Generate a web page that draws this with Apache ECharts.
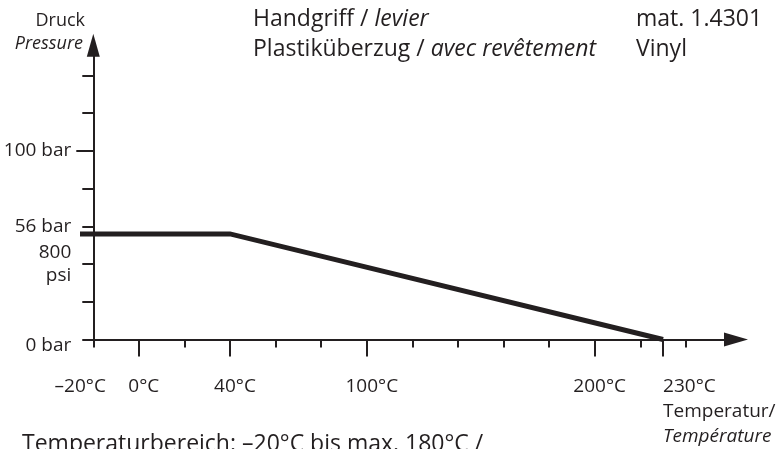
<!DOCTYPE html>
<html>
<head>
<meta charset="utf-8">
<script src="https://cdn.jsdelivr.net/npm/echarts@6/dist/echarts.min.js"></script>
<style>
  html, body { margin: 0; padding: 0; background: #ffffff; }
  #chart { width: 781px; height: 449px; }
</style>
</head>
<body>
<div id="chart"></div>
<script>
// Pressure / temperature rating curve
const temperature = [-27.5, 40, 230];      // °C
const pressure = [56, 56, 0];              // bar

// Temperature axis
const tempMinorTicks = [-20, 20, 60, 80, 120, 140, 160, 180, 220, 240];
const tempMajorTicks = [0, 40, 100, 200, 230];
const tempLabelValues = [0, 40, 100, 200];
const tempStartLabel = [-20];
const tempEndLabel = [230];

// Pressure axis
const pressureMinorTicks = [20, 40, 60, 80, 120, 140];
const pressureMajorTicks = [100];
const pressureLabelValues = [0, 40, 60, 100];
const pressureLabelTexts = ['0 bar', '800\npsi', '56 bar', '100 bar'];

const INK = '#231f20';
const FONT = '"Open Sans", "Noto Sans", sans-serif';
const LABEL_SIZE = 19;

const X_MIN = -24.5, X_MAX = 262;
const Y_MIN = 0, Y_MAX = 156;
const Y_AXIS_SHIFT = -10.3;   // vertical axis sits at -20 °C

function degreeText(v) {
  return (v < 0 ? '\u2013' + Math.abs(v) : String(v)) + '°C';
}

const baseX = {
  type: 'value', min: X_MIN, max: X_MAX, position: 'bottom',
  splitLine: { show: false },
  axisLine: { show: false, onZero: false },
  axisTick: { show: false },
  axisLabel: { show: false }
};

const baseY = {
  type: 'value', min: Y_MIN, max: Y_MAX, position: 'left', offset: Y_AXIS_SHIFT,
  splitLine: { show: false },
  axisLine: { show: false, onZero: false },
  axisTick: { show: false },
  axisLabel: { show: false }
};

const labelText = { color: INK, fontFamily: FONT, fontSize: LABEL_SIZE, lineHeight: 25 };

function tempLabelAxis(values, extra) {
  return Object.assign({}, baseX, {
    axisLabel: Object.assign({}, labelText, {
      show: true, customValues: values, margin: 34.5,
      showMinLabel: true, showMaxLabel: true, hideOverlap: false
    }, extra)
  });
}

const chart = echarts.init(document.getElementById('chart'), null, { renderer: 'canvas' });

chart.setOption({
  animation: false,
  backgroundColor: '#ffffff',
  textStyle: { fontFamily: FONT, color: INK },
  grid: { left: 83, right: 45, top: 45.3, bottom: 109, containLabel: false },
  xAxis: [
    // axis line with arrow and short ticks
    Object.assign({}, baseX, {
      axisLine: { show: true, onZero: false, lineStyle: { color: INK, width: 2 },
        symbol: ['none', 'triangle'], symbolSize: [14, 24] },
      axisTick: { show: true, length: 8, customValues: tempMinorTicks,
        lineStyle: { color: INK, width: 2 } }
    }),
    // long ticks
    Object.assign({}, baseX, {
      axisTick: { show: true, length: 17, customValues: tempMajorTicks,
        lineStyle: { color: INK, width: 2 } }
    }),
    // labels: number centred on its tick
    tempLabelAxis(tempLabelValues, {
      formatter: function (v) { return '{s| }' + degreeText(v); },
      rich: { s: Object.assign({}, labelText, { width: 10 }) }
    }),
    // first label, left of the vertical axis
    tempLabelAxis(tempStartLabel, {
      formatter: function (v) { return degreeText(v) + '{w| }'; },
      rich: { w: Object.assign({}, labelText, { width: 26 }) }
    }),
    // last label with axis title
    tempLabelAxis(tempEndLabel, {
      align: 'left',
      formatter: function (v) { return degreeText(v) + '\nTemperatur/\n{i|Température}'; },
      rich: { i: Object.assign({}, labelText, { fontStyle: 'italic' }) }
    })
  ],
  yAxis: [
    Object.assign({}, baseY, {
      axisLine: { show: true, onZero: false, lineStyle: { color: INK, width: 2 },
        symbol: ['none', 'triangle'], symbolSize: [13, 23] },
      axisTick: { show: true, length: 11, customValues: pressureMinorTicks,
        lineStyle: { color: INK, width: 2 } },
      axisLabel: {
        show: true, customValues: pressureLabelValues, margin: 22,
        showMinLabel: true, showMaxLabel: true, hideOverlap: false,
        color: INK, fontFamily: FONT, fontSize: LABEL_SIZE, lineHeight: 23, align: 'right',
        formatter: function (v) {
          const t = pressureLabelTexts[pressureLabelValues.indexOf(v)];
          return v === 0 ? '{z|' + t + '}' : t;
        },
        rich: {
          z: { padding: [13, 0, 0, 0], color: INK, fontFamily: FONT, fontSize: LABEL_SIZE, lineHeight: 23 }
        }
      }
    }),
    Object.assign({}, baseY, {
      axisTick: { show: true, length: 17, customValues: pressureMajorTicks,
        lineStyle: { color: INK, width: 2 } }
    })
  ],
  series: [{
    type: 'line',
    xAxisIndex: 0, yAxisIndex: 0,
    data: temperature.map((t, i) => [t, pressure[i]]),
    clip: false,
    showSymbol: false,
    symbol: 'none',
    lineStyle: { color: INK, width: 5, cap: 'butt', join: 'miter' }
  }],
  graphic: [
    { type: 'text', x: 85, y: 21,
      style: { text: 'Druck', align: 'right', verticalAlign: 'middle',
        font: '18px ' + FONT, fill: INK } },
    { type: 'text', x: 83, y: 44,
      style: { text: 'Pressure', align: 'right', verticalAlign: 'middle',
        font: 'italic 18px ' + FONT, fill: INK } },
    { type: 'text', x: 253, y: 19,
      style: { text: 'Handgriff / {i|levier}', verticalAlign: 'middle',
        font: '23px ' + FONT, fill: INK,
        rich: { i: { fontStyle: 'italic', fontSize: 23, fontFamily: FONT, fill: INK } } } },
    { type: 'text', x: 253, y: 49,
      style: { text: 'Plastiküberzug / {i|avec revêtement}', verticalAlign: 'middle',
        font: '23px ' + FONT, fill: INK,
        rich: { i: { fontStyle: 'italic', fontSize: 23, fontFamily: FONT, fill: INK } } } },
    { type: 'text', x: 636, y: 19,
      style: { text: 'mat. 1.4301', verticalAlign: 'middle', font: '23px ' + FONT, fill: INK } },
    { type: 'text', x: 636, y: 49,
      style: { text: 'Vinyl', verticalAlign: 'middle', font: '23px ' + FONT, fill: INK } },
    { type: 'text', x: 22, y: 444,
      style: { text: 'Temperaturbereich: \u201320°C bis max. 180°C /', verticalAlign: 'middle',
        font: '23px ' + FONT, fill: INK } }
  ]
});
</script>
</body>
</html>
